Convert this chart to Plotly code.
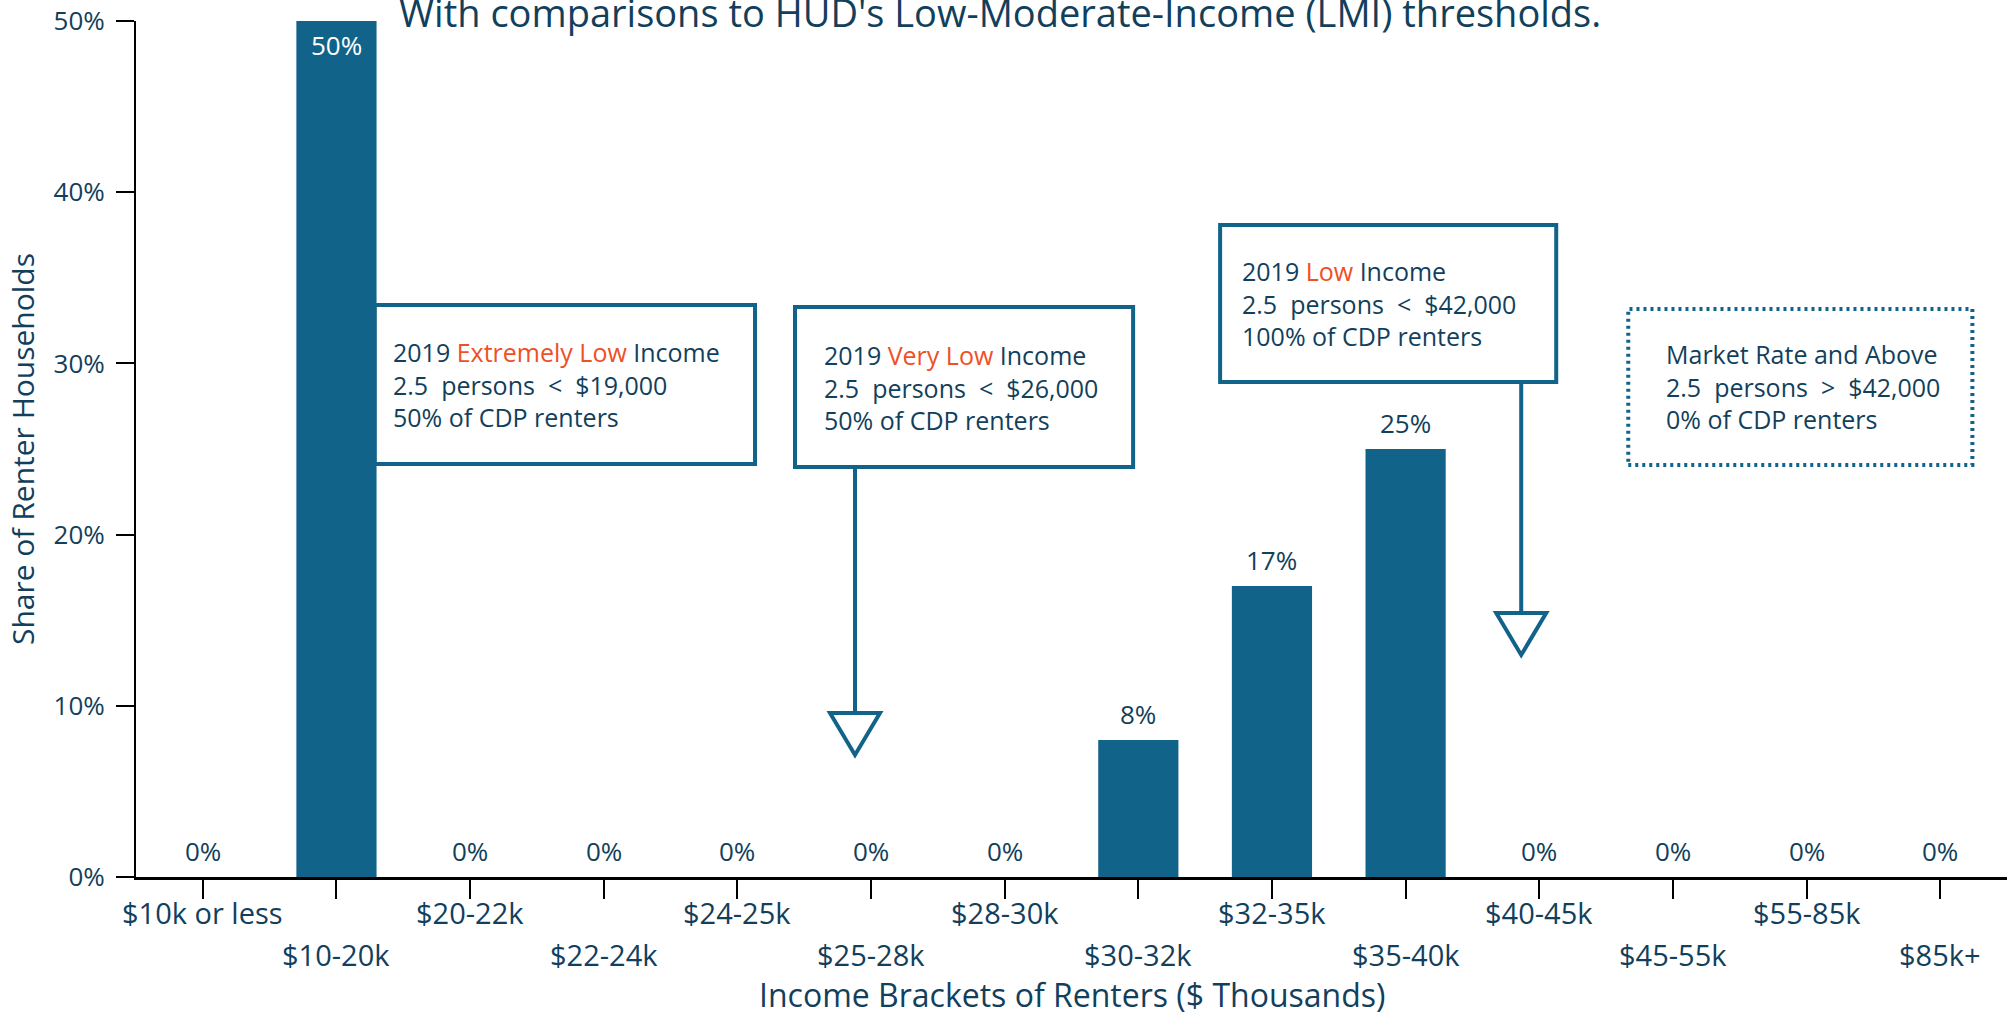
import plotly.graph_objects as go

# ---- data -------------------------------------------------------------
income_brackets = ["$10k or less", "$10-20k", "$20-22k", "$22-24k", "$24-25k",
                   "$25-28k", "$28-30k", "$30-32k", "$32-35k", "$35-40k",
                   "$40-45k", "$45-55k", "$55-85k", "$85k+"]
renter_share_pct = [0, 50, 0, 0, 0, 0, 0, 8, 17, 25, 0, 0, 0, 0]
y_tick_values = [0, 10, 20, 30, 40, 50]
y_tick_labels = ["0%", "10%", "20%", "30%", "40%", "50%"]

# HUD income-limit callouts (2.5-person household)
lmi_tiers = ["Extremely Low", "Very Low", "Low"]
lmi_limits = ["$19,000", "$26,000", "$42,000"]
lmi_renter_share = ["50%", "50%", "100%"]
market_heading = "Market Rate and Above"
market_limit = "$42,000"
market_renter_share = "0%"

# ---- styling ----------------------------------------------------------
BAR = "#11638a"
NAVY = "#123f5c"
ORANGE = "#f04f26"
FONT = "Open Sans"
BOX_FONT = 25

n = len(income_brackets)
x_pos = list(range(n))

fig = go.Figure(
    go.Bar(x=x_pos, y=renter_share_pct, width=0.6, marker=dict(color=BAR, line=dict(width=0)),
           hoverinfo="skip")
)

annotations = []
shapes = []

# staggered category labels under the axis
for i, name in enumerate(income_brackets):
    annotations.append(dict(x=i, xref="x", y=0, yref="paper", text=name, showarrow=False,
                            xanchor="center", yanchor="middle",
                            yshift=-35 if i % 2 == 0 else -77,
                            font=dict(family=FONT, size=29, color=NAVY)))

# value labels (inside the bar when it reaches the top of the scale)
y_max = max(y_tick_values)
for i, v in enumerate(renter_share_pct):
    inside = v >= y_max - 2
    annotations.append(dict(x=i, xref="x", y=v, yref="y", text=f"{v:g}%", showarrow=False,
                            xanchor="center", yanchor="middle",
                            yshift=-24 if inside else 26,
                            font=dict(family=FONT, size=26, color="white" if inside else NAVY)))


def callout_text(x, y_mid, lines):
    annotations.append(dict(x=x, xref="x", y=y_mid, yref="y", text="<br>".join(lines),
                            showarrow=False, xanchor="left", yanchor="middle", align="left",
                            font=dict(family=FONT, size=BOX_FONT, color=NAVY)))


# callout boxes: (x0, x1, y_bottom, y_top, text_x, arrow_x, arrow_tip_y)
box_geometry = [
    (1.287, 4.132, 24.12, 33.41, 1.407, None, None),
    (4.431, 6.961, 23.95, 33.29, 4.633, 4.880, 7.13),
    (7.612, 10.127, 28.91, 38.08, 7.762, 9.865, 12.97),
]
tri_half_w = 0.187
tri_h = 2.45
for (x0, x1, yb, yt, tx, ax, tip), tier, limit, share in zip(box_geometry, lmi_tiers,
                                                              lmi_limits, lmi_renter_share):
    shapes.append(dict(type="rect", xref="x", yref="y", x0=x0, x1=x1, y0=yb, y1=yt,
                       line=dict(color=BAR, width=4), fillcolor="white", layer="above"))
    callout_text(tx, (yb + yt) / 2, [
        f"2019 <span style='color:{ORANGE}'>{tier}</span> Income",
        f"2.5\u00a0\u00a0persons\u00a0\u00a0&lt;\u00a0\u00a0{limit}",
        f"{share} of CDP renters",
    ])
    if ax is not None:
        shapes.append(dict(type="line", xref="x", yref="y", x0=ax, x1=ax, y0=yb, y1=tip + tri_h,
                           line=dict(color=BAR, width=4), layer="above"))
        path = (f"M {ax - tri_half_w},{tip + tri_h} L {ax + tri_half_w},{tip + tri_h} "
                f"L {ax},{tip} Z")
        shapes.append(dict(type="path", xref="x", yref="y", path=path,
                           line=dict(color=BAR, width=4), fillcolor="white", layer="above"))

# market-rate box (dotted)
mx0, mx1, myb, myt, mtx = 10.666, 13.241, 24.07, 33.18, 10.936
shapes.append(dict(type="rect", xref="x", yref="y", x0=mx0, x1=mx1, y0=myb, y1=myt,
                   line=dict(color=BAR, width=4, dash="3px,4px"), fillcolor="rgba(0,0,0,0)",
                   layer="above"))
callout_text(mtx, (myb + myt) / 2, [
    market_heading,
    f"2.5\u00a0\u00a0persons\u00a0\u00a0&gt;\u00a0\u00a0{market_limit}",
    f"{market_renter_share} of CDP renters",
])

# titles
annotations.append(dict(x=0.4618, xref="paper", y=1.011, yref="paper",
                        text="With comparisons to HUD's Low-Moderate-Income (LMI) thresholds.",
                        showarrow=False, xanchor="center", yanchor="middle",
                        font=dict(family=FONT, size=38, color=NAVY)))
annotations.append(dict(x=0.5, xref="paper", y=-0.137, yref="paper",
                        text="Income Brackets of Renters ($ Thousands)",
                        showarrow=False, xanchor="center", yanchor="middle",
                        font=dict(family=FONT, size=32, color=NAVY)))
annotations.append(dict(x=-0.0609, xref="paper", y=0.5, yref="paper",
                        text="Share of Renter Households", textangle=-90,
                        showarrow=False, xanchor="center", yanchor="middle",
                        font=dict(family=FONT, size=30, color=NAVY)))

fig.update_layout(
    width=2009, height=1017,
    margin=dict(l=136, r=2, t=21, b=140, autoexpand=False),
    paper_bgcolor="white", plot_bgcolor="white",
    showlegend=False,
    font=dict(family=FONT, color=NAVY),
    annotations=annotations,
    shapes=shapes,
    xaxis=dict(range=[-0.5, n - 0.5], tickvals=x_pos, showticklabels=False,
               ticks="outside", ticklen=19, tickwidth=2, tickcolor="black",
               showline=True, linecolor="black", linewidth=3,
               showgrid=False, zeroline=False, fixedrange=True),
    yaxis=dict(range=[0, y_max], tickvals=y_tick_values, ticktext=y_tick_labels,
               ticks="outside", ticklen=18, tickwidth=2, tickcolor="black",
               ticklabelstandoff=6,
               tickfont=dict(family=FONT, size=26, color=NAVY),
               showline=True, linecolor="black", linewidth=2,
               showgrid=False, zeroline=False, fixedrange=True),
)

fig.write_html("out.html", config={"displayModeBar": False})
